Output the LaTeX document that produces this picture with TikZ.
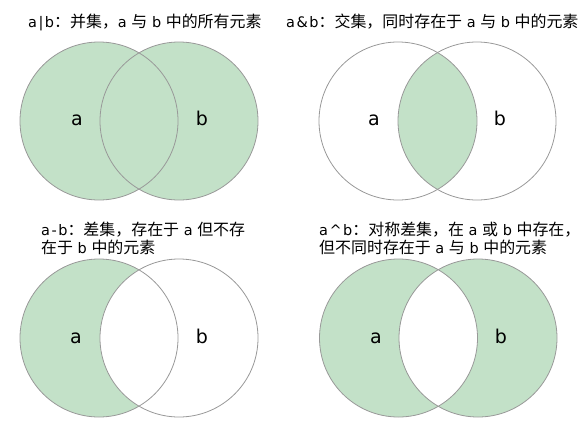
\documentclass[tikz,border=0pt]{standalone}
\usepackage{fontspec}
\setmainfont{DejaVu Sans}
\newfontfamily\cjk[Scale=1.1]{Noto Sans CJK SC}
\newcommand{\opsp}{\hspace{1.5pt}}
\definecolor{vfill}{HTML}{C3E1C8}
\definecolor{vline}{HTML}{999999}
\tikzset{
  outline/.style={draw=vline, line width=0.8pt},
  setlabel/.style={font=\fontsize{19}{22}\selectfont, anchor=base, inner sep=0pt},
  title/.style={font=\fontsize{14.5}{18}\selectfont, anchor=base west, inner sep=0pt, align=left},
}
\begin{document}
\begin{tikzpicture}[x=1pt,y=-1pt]
\useasboundingbox (0,0) rectangle (580,431);
\def\R{79}
% ---------- top-left: union
\fill[vfill] (99,121) circle (\R) (179,121) circle (\R);
\draw[outline] (99,121) circle (\R);
\draw[outline] (179,121) circle (\R);
\node[setlabel] (tla) at (77,125) {a};
\node[setlabel] (tlb) at (202,125) {b};
\node[title] (tlt) at (28,27) {a\opsp|\opsp b{\cjk ：并集，}a {\cjk 与} b {\cjk 中的所有元素}};
% ---------- top-right: intersection
\begin{scope}
\clip (398,121) circle (\R);
\fill[vfill] (477,121) circle (\R);
\end{scope}
\draw[outline] (398,121) circle (\R);
\draw[outline] (477,121) circle (\R);
\node[setlabel] (tra) at (374,125) {a};
\node[setlabel] (trb) at (500,125) {b};
\node[title] (trt) at (286,27) {a\opsp\&\opsp b{\cjk ：交集，同时存在于} a {\cjk 与} b {\cjk 中的元素}};
% ---------- bottom-left: difference
\fill[vfill] (99,338) circle (\R);
\fill[white] (179,338) circle (\R);
\draw[outline] (99,338) circle (\R);
\draw[outline] (179,338) circle (\R);
\node[setlabel] (bla) at (76,343) {a};
\node[setlabel] (blb) at (202,343) {b};
\node[title] (blt) at (41,253) {a\opsp-\opsp b{\cjk ：差集，存在于} a {\cjk 但不存}\\{\cjk 在于} b {\cjk 中的元素}};
% ---------- bottom-right: symmetric difference
\fill[vfill, even odd rule] (398.5,338) circle (\R) (478,338) circle (\R);
\draw[outline] (398.5,338) circle (\R);
\draw[outline] (478,338) circle (\R);
\node[setlabel] (bra) at (376,343) {a};
\node[setlabel] (brb) at (501,343) {b};
\node[title] (brt) at (319,253) {a\opsp\textasciicircum\opsp b{\cjk ：对称差集，在} a {\cjk 或} b {\cjk 中存在，}\\{\cjk 但不同时存在于} a {\cjk 与} b {\cjk 中的元素}};
\end{tikzpicture}
\end{document}
